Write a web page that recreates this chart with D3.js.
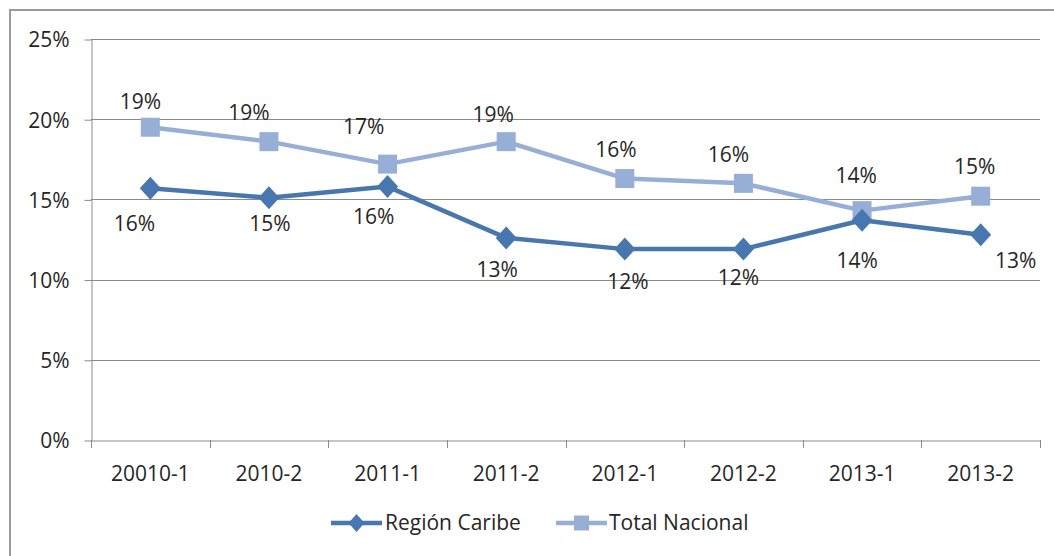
<!DOCTYPE html>
<html>
<head>
<meta charset="utf-8">
<script src="https://cdn.jsdelivr.net/npm/d3@7"></script>
<style>
  html, body { margin: 0; padding: 0; background: #fff; }
  svg { display: block; }
</style>
</head>
<body>
<svg id="chart" width="1054" height="556"></svg>
<script>
// ---- data ----
const categories = ["20010-1", "2010-2", "2011-1", "2011-2", "2012-1", "2012-2", "2013-1", "2013-2"];
const regionCaribe = [15.7, 15.1, 15.8, 12.6, 11.9, 11.9, 13.7, 12.8];
const totalNacional = [19.5, 18.6, 17.2, 18.6, 16.3, 16.0, 14.3, 15.2];
const caribeLabels = ["16%", "15%", "16%", "13%", "12%", "12%", "14%", "13%"];
const nacionalLabels = ["19%", "19%", "17%", "19%", "16%", "16%", "14%", "15%"];
const yTicks = [0, 5, 10, 15, 20, 25];
const seriesNames = ["Región Caribe", "Total Nacional"];

// label nudges (styling, relative to each point)
const caribeNudge = [[-16, 35], [1, 26], [-14, 30], [-9, 32], [3, 33], [-5, 29], [-5, 40], [35, 26]];
const nacionalNudge = [[-10, -26], [-20, -29], [-24, -37], [-13, -27], [-9, -29], [-15, -29], [-6, -35], [-6, -30]];

const darkBlue = "#4876AE";
const lightBlue = "#97AFD6";
const gridColor = "#8a8a8a";
const textColor = "#262626";
const font = "'Open Sans', 'Noto Sans', sans-serif";

const svg = d3.select("#chart");

// outer border
svg.append("rect")
  .attr("x", 10).attr("y", 10)
  .attr("width", 1100).attr("height", 600)
  .attr("fill", "none").attr("stroke", "#9a9a9a").attr("stroke-width", 2);

const plotL = 91, plotR = 1040, plotT = 39, plotB = 440;

const x = d3.scaleBand().domain(categories).range([plotL, plotR]).paddingInner(0).paddingOuter(0);
const y = d3.scaleLinear().domain([0, 25]).range([plotB, plotT]);
const cx = c => x(c) + x.bandwidth() / 2;

// gridlines
svg.append("g").selectAll("line").data(yTicks.filter(t => t > 0)).join("line")
  .attr("x1", plotL).attr("x2", plotR)
  .attr("y1", d => Math.round(y(d)) + 0.5).attr("y2", d => Math.round(y(d)) + 0.5)
  .attr("stroke", gridColor).attr("stroke-width", 1);

// y axis
const yAxis = d3.axisLeft(y).tickValues(yTicks).tickFormat(d => d + "%").tickSize(7).tickSizeOuter(0);
const gy = svg.append("g").attr("transform", `translate(${plotL + 0.5},0.5)`).call(yAxis);
gy.select(".domain").attr("stroke", gridColor);
gy.selectAll(".tick line").attr("stroke", gridColor);
gy.selectAll(".tick text")
  .attr("x", -22).attr("dy", "0.35em")
  .attr("fill", textColor).style("font-family", font).style("font-size", "21px");

// x axis
const xAxis = d3.axisBottom(x).tickSize(0).tickSizeOuter(0);
const gx = svg.append("g").attr("transform", `translate(0,${plotB + 0.5})`).call(xAxis);
gx.select(".domain").attr("stroke", gridColor);
gx.selectAll(".tick text")
  .attr("y", 33).attr("dy", "0.35em")
  .attr("fill", textColor).style("font-family", font).style("font-size", "21px");
// category boundary ticks
const bounds = categories.map(c => x(c)).concat([plotR]);
svg.append("g").selectAll("line").data(bounds).join("line")
  .attr("x1", d => Math.round(d) + 0.5).attr("x2", d => Math.round(d) + 0.5)
  .attr("y1", plotB).attr("y2", plotB + 8)
  .attr("stroke", gridColor).attr("stroke-width", 1);

const line = d3.line().x((d, i) => cx(categories[i])).y(d => y(d));

// Total Nacional
svg.append("path").datum(totalNacional)
  .attr("d", line).attr("fill", "none")
  .attr("stroke", lightBlue).attr("stroke-width", 4.5).attr("stroke-linejoin", "round");
const sq = 19;
svg.append("g").selectAll("rect").data(totalNacional).join("rect")
  .attr("x", (d, i) => cx(categories[i]) - sq / 2)
  .attr("y", d => y(d) - sq / 2)
  .attr("width", sq).attr("height", sq)
  .attr("fill", lightBlue);

// Región Caribe
svg.append("path").datum(regionCaribe)
  .attr("d", line).attr("fill", "none")
  .attr("stroke", darkBlue).attr("stroke-width", 4.5).attr("stroke-linejoin", "round");
const diamond = (px, py, w, h) => `M${px},${py - h}L${px + w},${py}L${px},${py + h}L${px - w},${py}Z`;
svg.append("g").selectAll("path").data(regionCaribe).join("path")
  .attr("d", (d, i) => diamond(cx(categories[i]), y(d), 10.5, 11.5))
  .attr("fill", darkBlue);

// data labels
svg.append("g").selectAll("text").data(totalNacional).join("text")
  .attr("x", (d, i) => cx(categories[i]) + nacionalNudge[i][0])
  .attr("y", (d, i) => y(d) + nacionalNudge[i][1])
  .attr("dy", "0.35em").attr("text-anchor", "middle")
  .attr("fill", textColor).style("font-family", font).style("font-size", "21px")
  .text((d, i) => nacionalLabels[i]);

svg.append("g").selectAll("text").data(regionCaribe).join("text")
  .attr("x", (d, i) => cx(categories[i]) + caribeNudge[i][0])
  .attr("y", (d, i) => y(d) + caribeNudge[i][1])
  .attr("dy", "0.35em").attr("text-anchor", "middle")
  .attr("fill", textColor).style("font-family", font).style("font-size", "21px")
  .text((d, i) => caribeLabels[i]);

// legend
const legY = 523;
const leg = svg.append("g");
const legItems = [
  { name: seriesNames[0], color: darkBlue, x0: 331, shape: "diamond", tx: 385 },
  { name: seriesNames[1], color: lightBlue, x0: 556, shape: "square", tx: 609 }
];
legItems.forEach(it => {
  leg.append("line").attr("x1", it.x0).attr("x2", it.x0 + 51)
    .attr("y1", legY).attr("y2", legY)
    .attr("stroke", it.color).attr("stroke-width", 4.5);
  const mx = it.x0 + 25.5;
  if (it.shape === "diamond") {
    leg.append("path").attr("d", diamond(mx, legY, 8, 9)).attr("fill", it.color);
  } else {
    leg.append("rect").attr("x", mx - 7.5).attr("y", legY - 7.5)
      .attr("width", 15).attr("height", 15).attr("fill", it.color);
  }
  leg.append("text").attr("x", it.tx).attr("y", legY).attr("dy", "0.35em")
    .attr("fill", textColor).style("font-family", font).style("font-size", "21px")
    .text(it.name);
});
</script>
</body>
</html>
